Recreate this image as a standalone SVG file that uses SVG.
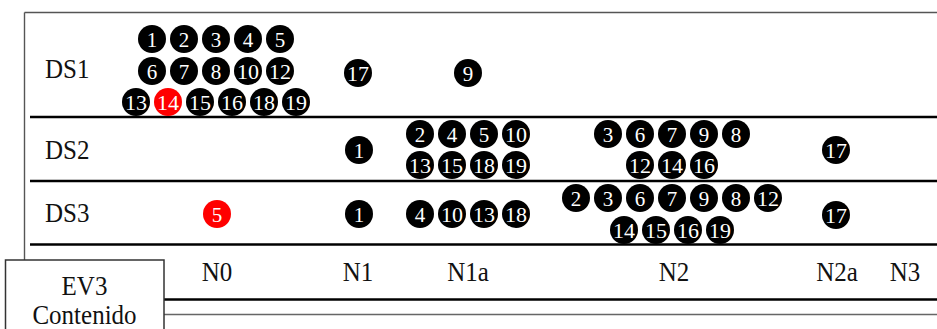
<svg xmlns="http://www.w3.org/2000/svg" width="937" height="329" viewBox="0 0 937 329">
<style>
.lbl{font-family:"Liberation Serif","Times New Roman",serif;font-size:25px;fill:#111}
.c circle{fill:#000}
.r circle{fill:#ff0000}
.c text,.r text{font-family:"Liberation Serif","Times New Roman",serif;font-size:21px;fill:#fff;text-anchor:middle}
.rule{stroke:#000;stroke-width:2.5;fill:none}
.thin{stroke:#555;stroke-width:1.4;fill:none}
</style>
<rect width="937" height="329" fill="#fff"/>
<g id="rules">
<line class="thin" x1="24.5" y1="12.5" x2="937" y2="12.5"/>
<line class="thin" x1="24.5" y1="12.5" x2="24.5" y2="260"/>
<line class="rule" x1="30" y1="117" x2="937" y2="117"/>
<line class="rule" x1="30" y1="181" x2="937" y2="181"/>
<line class="rule" x1="30" y1="244.5" x2="937" y2="244.5"/>
<line class="rule" x1="164" y1="299.5" x2="937" y2="299.5"/>
<line class="thin" x1="164" y1="314.5" x2="937" y2="314.5" style="stroke:#666"/>
</g>
<g id="ev3">
<rect x="5.5" y="260" width="158.5" height="80" fill="#fff" stroke="#333" stroke-width="1.5"/>
<text class="lbl" text-anchor="middle" transform="translate(84.5,294.5) scale(1,1.12)">EV3</text>
<text class="lbl" text-anchor="middle" transform="translate(84.5,324) scale(1,1.12)">Contenido</text>
</g>
<g id="row-labels">
<text class="lbl" transform="translate(45,78) scale(1,1.12)">DS1</text>
<text class="lbl" transform="translate(45,159) scale(1,1.12)">DS2</text>
<text class="lbl" transform="translate(45,222) scale(1,1.12)">DS3</text>
</g>
<g id="col-labels">
<text class="lbl" text-anchor="middle" transform="translate(217,281) scale(1,1.12)">N0</text>
<text class="lbl" text-anchor="middle" transform="translate(358,281) scale(1,1.12)">N1</text>
<text class="lbl" text-anchor="middle" transform="translate(468,281) scale(1,1.12)">N1a</text>
<text class="lbl" text-anchor="middle" transform="translate(674,281) scale(1,1.12)">N2</text>
<text class="lbl" text-anchor="middle" transform="translate(837,281) scale(1,1.12)">N2a</text>
<text class="lbl" text-anchor="middle" transform="translate(905,281) scale(1,1.12)">N3</text>
</g>
<g id="ds1-n0">
<g id="ds1-n0-1" class="c"><circle cx="152" cy="39" r="14"/><text x="152" y="46.5">1</text></g>
<g id="ds1-n0-2" class="c"><circle cx="184" cy="39" r="14"/><text x="184" y="46.5">2</text></g>
<g id="ds1-n0-3" class="c"><circle cx="216" cy="39" r="14"/><text x="216" y="46.5">3</text></g>
<g id="ds1-n0-4" class="c"><circle cx="248" cy="39" r="14"/><text x="248" y="46.5">4</text></g>
<g id="ds1-n0-5" class="c"><circle cx="280" cy="39" r="14"/><text x="280" y="46.5">5</text></g>
<g id="ds1-n0-6" class="c"><circle cx="152" cy="71" r="14"/><text x="152" y="78.5">6</text></g>
<g id="ds1-n0-7" class="c"><circle cx="184" cy="71" r="14"/><text x="184" y="78.5">7</text></g>
<g id="ds1-n0-8" class="c"><circle cx="216" cy="71" r="14"/><text x="216" y="78.5">8</text></g>
<g id="ds1-n0-10" class="c"><circle cx="248" cy="71" r="14"/><text x="248" y="78.5" textLength="22" lengthAdjust="spacingAndGlyphs">10</text></g>
<g id="ds1-n0-12" class="c"><circle cx="280" cy="71" r="14"/><text x="280" y="78.5" textLength="22" lengthAdjust="spacingAndGlyphs">12</text></g>
<g id="ds1-n0-13" class="c"><circle cx="136" cy="102" r="14"/><text x="136" y="109.5" textLength="22" lengthAdjust="spacingAndGlyphs">13</text></g>
<g id="ds1-n0-14" class="r"><circle cx="168" cy="102" r="14"/><text x="168" y="109.5" textLength="22" lengthAdjust="spacingAndGlyphs">14</text></g>
<g id="ds1-n0-15" class="c"><circle cx="200" cy="102" r="14"/><text x="200" y="109.5" textLength="22" lengthAdjust="spacingAndGlyphs">15</text></g>
<g id="ds1-n0-16" class="c"><circle cx="232" cy="102" r="14"/><text x="232" y="109.5" textLength="22" lengthAdjust="spacingAndGlyphs">16</text></g>
<g id="ds1-n0-18" class="c"><circle cx="264" cy="102" r="14"/><text x="264" y="109.5" textLength="22" lengthAdjust="spacingAndGlyphs">18</text></g>
<g id="ds1-n0-19" class="c"><circle cx="296" cy="102" r="14"/><text x="296" y="109.5" textLength="22" lengthAdjust="spacingAndGlyphs">19</text></g>
</g>
<g id="ds1-n1-17" class="c"><circle cx="358" cy="73" r="14"/><text x="358" y="80.5" textLength="22" lengthAdjust="spacingAndGlyphs">17</text></g>
<g id="ds1-n1a-9" class="c"><circle cx="468" cy="73" r="14"/><text x="468" y="80.5">9</text></g>
<g id="ds2-n1-1" class="c"><circle cx="359" cy="150" r="14"/><text x="359" y="157.5">1</text></g>
<g id="ds2-n1a">
<g id="ds2-n1a-2" class="c"><circle cx="420" cy="134" r="14"/><text x="420" y="141.5">2</text></g>
<g id="ds2-n1a-4" class="c"><circle cx="452" cy="134" r="14"/><text x="452" y="141.5">4</text></g>
<g id="ds2-n1a-5" class="c"><circle cx="484" cy="134" r="14"/><text x="484" y="141.5">5</text></g>
<g id="ds2-n1a-10" class="c"><circle cx="516" cy="134" r="14"/><text x="516" y="141.5" textLength="22" lengthAdjust="spacingAndGlyphs">10</text></g>
<g id="ds2-n1a-13" class="c"><circle cx="420" cy="165" r="14"/><text x="420" y="172.5" textLength="22" lengthAdjust="spacingAndGlyphs">13</text></g>
<g id="ds2-n1a-15" class="c"><circle cx="452" cy="165" r="14"/><text x="452" y="172.5" textLength="22" lengthAdjust="spacingAndGlyphs">15</text></g>
<g id="ds2-n1a-18" class="c"><circle cx="484" cy="165" r="14"/><text x="484" y="172.5" textLength="22" lengthAdjust="spacingAndGlyphs">18</text></g>
<g id="ds2-n1a-19" class="c"><circle cx="516" cy="165" r="14"/><text x="516" y="172.5" textLength="22" lengthAdjust="spacingAndGlyphs">19</text></g>
</g>
<g id="ds2-n2">
<g id="ds2-n2-3" class="c"><circle cx="608" cy="134" r="14"/><text x="608" y="141.5">3</text></g>
<g id="ds2-n2-6" class="c"><circle cx="640" cy="134" r="14"/><text x="640" y="141.5">6</text></g>
<g id="ds2-n2-7" class="c"><circle cx="672" cy="134" r="14"/><text x="672" y="141.5">7</text></g>
<g id="ds2-n2-9" class="c"><circle cx="704" cy="134" r="14"/><text x="704" y="141.5">9</text></g>
<g id="ds2-n2-8" class="c"><circle cx="736" cy="134" r="14"/><text x="736" y="141.5">8</text></g>
<g id="ds2-n2-12" class="c"><circle cx="640" cy="165" r="14"/><text x="640" y="172.5" textLength="22" lengthAdjust="spacingAndGlyphs">12</text></g>
<g id="ds2-n2-14" class="c"><circle cx="672" cy="165" r="14"/><text x="672" y="172.5" textLength="22" lengthAdjust="spacingAndGlyphs">14</text></g>
<g id="ds2-n2-16" class="c"><circle cx="704" cy="165" r="14"/><text x="704" y="172.5" textLength="22" lengthAdjust="spacingAndGlyphs">16</text></g>
</g>
<g id="ds2-n2a-17" class="c"><circle cx="836" cy="150" r="14"/><text x="836" y="157.5" textLength="22" lengthAdjust="spacingAndGlyphs">17</text></g>
<g id="ds3-n0-5" class="r"><circle cx="217" cy="214" r="14"/><text x="217" y="221.5">5</text></g>
<g id="ds3-n1-1" class="c"><circle cx="359" cy="214" r="14"/><text x="359" y="221.5">1</text></g>
<g id="ds3-n1a">
<g id="ds3-n1a-4" class="c"><circle cx="420" cy="214" r="14"/><text x="420" y="221.5">4</text></g>
<g id="ds3-n1a-10" class="c"><circle cx="452" cy="214" r="14"/><text x="452" y="221.5" textLength="22" lengthAdjust="spacingAndGlyphs">10</text></g>
<g id="ds3-n1a-13" class="c"><circle cx="484" cy="214" r="14"/><text x="484" y="221.5" textLength="22" lengthAdjust="spacingAndGlyphs">13</text></g>
<g id="ds3-n1a-18" class="c"><circle cx="516" cy="214" r="14"/><text x="516" y="221.5" textLength="22" lengthAdjust="spacingAndGlyphs">18</text></g>
</g>
<g id="ds3-n2">
<g id="ds3-n2-2" class="c"><circle cx="576" cy="198" r="14"/><text x="576" y="205.5">2</text></g>
<g id="ds3-n2-3" class="c"><circle cx="608" cy="198" r="14"/><text x="608" y="205.5">3</text></g>
<g id="ds3-n2-6" class="c"><circle cx="640" cy="198" r="14"/><text x="640" y="205.5">6</text></g>
<g id="ds3-n2-7" class="c"><circle cx="672" cy="198" r="14"/><text x="672" y="205.5">7</text></g>
<g id="ds3-n2-9" class="c"><circle cx="704" cy="198" r="14"/><text x="704" y="205.5">9</text></g>
<g id="ds3-n2-8" class="c"><circle cx="736" cy="198" r="14"/><text x="736" y="205.5">8</text></g>
<g id="ds3-n2-12" class="c"><circle cx="768" cy="198" r="14"/><text x="768" y="205.5" textLength="22" lengthAdjust="spacingAndGlyphs">12</text></g>
<g id="ds3-n2-14" class="c"><circle cx="624" cy="230" r="14"/><text x="624" y="237.5" textLength="22" lengthAdjust="spacingAndGlyphs">14</text></g>
<g id="ds3-n2-15" class="c"><circle cx="656" cy="230" r="14"/><text x="656" y="237.5" textLength="22" lengthAdjust="spacingAndGlyphs">15</text></g>
<g id="ds3-n2-16" class="c"><circle cx="688" cy="230" r="14"/><text x="688" y="237.5" textLength="22" lengthAdjust="spacingAndGlyphs">16</text></g>
<g id="ds3-n2-19" class="c"><circle cx="720" cy="230" r="14"/><text x="720" y="237.5" textLength="22" lengthAdjust="spacingAndGlyphs">19</text></g>
</g>
<g id="ds3-n2a-17" class="c"><circle cx="836" cy="215" r="14"/><text x="836" y="222.5" textLength="22" lengthAdjust="spacingAndGlyphs">17</text></g>
</svg>
